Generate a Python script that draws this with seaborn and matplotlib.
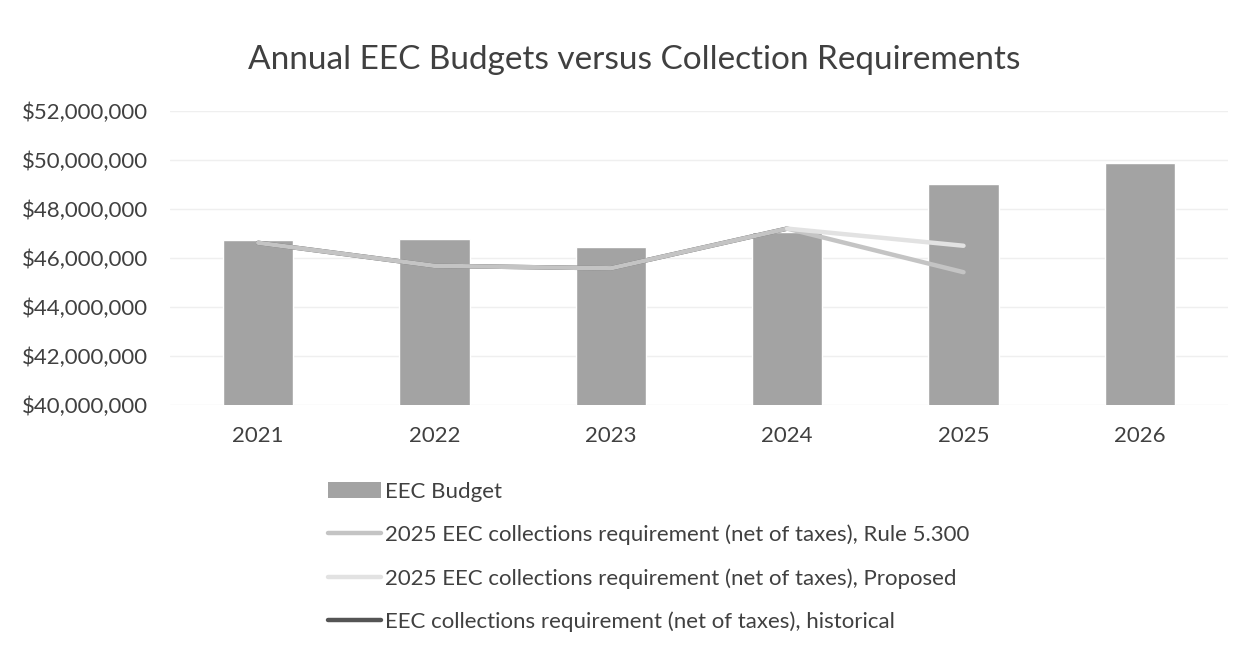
import numpy as np
import pandas as pd
import matplotlib
matplotlib.use("Agg")
import matplotlib.pyplot as plt
import seaborn as sns
from matplotlib.ticker import FuncFormatter
from matplotlib.patches import Patch
from matplotlib.lines import Line2D

# values
years = ["2021", "2022", "2023", "2024", "2025", "2026"]
budget = [46.72e6, 46.78e6, 46.45e6, 47.05e6, 49.02e6, 49.88e6]
hist_years = ["2021", "2022", "2023", "2024"]
historical = [46.62e6, 45.68e6, 45.58e6, 47.20e6]
rule_years = ["2021", "2022", "2023", "2024", "2025"]
rule_5300 = [46.62e6, 45.68e6, 45.58e6, 47.20e6, 45.42e6]
prop_years = ["2024", "2025"]
proposed = [47.20e6, 46.50e6]

sns.set_theme(style="white")
plt.rcParams['font.family'] = ['Lato', 'DejaVu Sans']

fig = plt.figure(figsize=(12.51, 6.49), dpi=100)
ax = fig.add_axes([170 / 1251, 1 - 405 / 649, (1228 - 170) / 1251, (405 - 111) / 649])

df = pd.DataFrame({"year": years, "budget": budget})
sns.barplot(data=df, x="year", y="budget", order=years, color="#a3a3a3",
            width=0.4, saturation=1, ax=ax, zorder=2)

def pos(ys):
    return [years.index(y) for y in ys]

# historical line sits under the Rule 5.300 line, as in the original
sns.lineplot(x=pos(hist_years), y=historical, color="#555555", linewidth=3.2,
             ax=ax, zorder=3)
sns.lineplot(x=pos(rule_years), y=rule_5300, color="#c4c4c4", linewidth=3.2,
             ax=ax, zorder=4)
sns.lineplot(x=pos(prop_years), y=proposed, color="#e2e2e2", linewidth=3.2,
             ax=ax, zorder=5)

ax.set_xlim(-0.5, 5.5)
ax.set_ylim(40e6, 52e6)
ax.set_yticks(np.arange(40e6, 52e6 + 1, 2e6))
ax.yaxis.set_major_formatter(FuncFormatter(lambda v, p: f"${v:,.0f}"))
ax.set_xlabel("")
ax.set_ylabel("")
ax.grid(axis="y", color="#efefef", linewidth=1, zorder=0)
for s in ax.spines.values():
    s.set_visible(False)
ax.tick_params(axis="y", labelsize=16, colors="#404040", pad=16, length=0)
ax.tick_params(axis="x", labelsize=16, colors="#404040", pad=15, length=0)

fig.text(0.507, 1 - 60 / 649, "Annual EEC Budgets versus Collection Requirements",
         ha="center", va="center", fontsize=24, color="#404040")

handles = [
    Patch(facecolor="#a3a3a3", edgecolor="none"),
    Line2D([], [], color="#c4c4c4", linewidth=3.2),
    Line2D([], [], color="#e2e2e2", linewidth=3.2),
    Line2D([], [], color="#555555", linewidth=3.2),
]
labels = [
    "EEC Budget",
    "2025 EEC collections requirement (net of taxes), Rule 5.300",
    "2025 EEC collections requirement (net of taxes), Proposed",
    "EEC collections requirement (net of taxes), historical",
]
fig.legend(handles, labels, loc="upper left", bbox_to_anchor=(308 / 1251, 1 - 462 / 649),
           frameon=False, fontsize=16, labelspacing=1.02, handlelength=2.4,
           handletextpad=0.15, labelcolor="#404040")

fig.savefig("out.png", dpi=100, facecolor="white")
